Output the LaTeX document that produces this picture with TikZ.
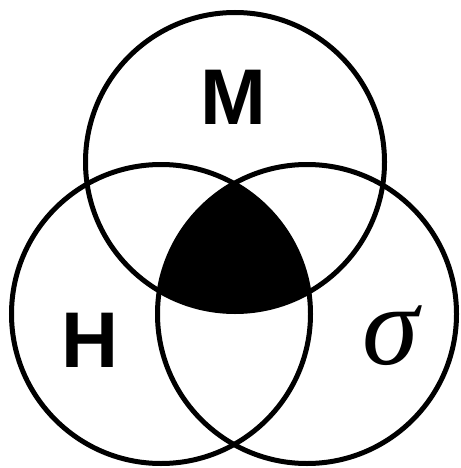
\documentclass[tikz,border=0pt]{standalone}
\usepackage{fontspec}
\setsansfont{Liberation Sans}
\newfontfamily\greekserif{Liberation Serif}
\usepackage{tikz}
\usetikzlibrary{positioning}

\begin{document}
\begin{tikzpicture}[
    x=1pt, y=-1pt,
    ring/.style={draw=black, line width=5pt},
    setlabel/.style={font=\sffamily\bfseries\fontsize{79}{79}\selectfont, inner sep=0pt}
]
    \useasboundingbox (0,0) rectangle (460,468);

    % circle centres
    \coordinate (cM) at (235,162);
    \coordinate (cH) at (161,314);
    \coordinate (cS) at (307,314);

    % common part of all three sets
    \begin{scope}
        \clip (cM) circle (149.5);
        \clip (cH) circle (149.5);
        \fill[black] (cS) circle (149.5);
    \end{scope}

    \draw[ring] (cM) circle (149.5);
    \draw[ring] (cH) circle (149.5);
    \draw[ring] (cS) circle (149.5);

    \node[setlabel] (M) at (233,97) {M};
    \node[setlabel] (H) at (90,340) {H};
    \node[inner sep=0pt, font=\greekserif\itshape\fontsize{114}{114}\selectfont] (sigma) at (391,336) {σ};

\end{tikzpicture}
\end{document}
